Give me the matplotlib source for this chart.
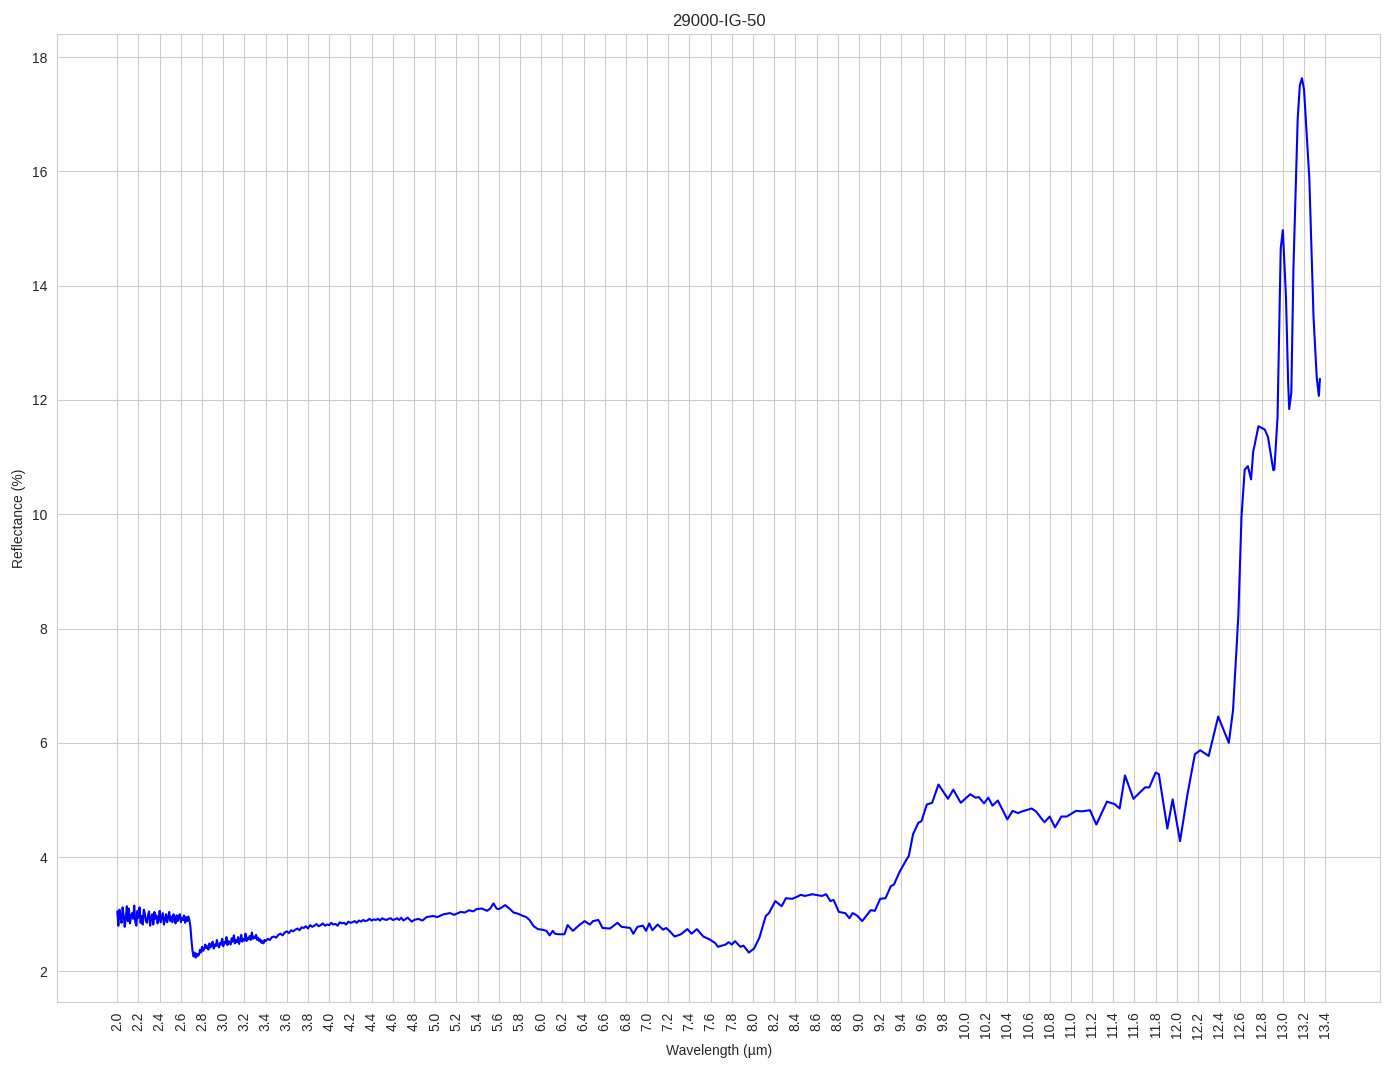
import matplotlib.pyplot as plt
import numpy as np
import seaborn as sns

# spectrum, in segments
# 2.00 - 2.68 um, noisy plateau (0.01 um steps)
wl_a = [2.00, 2.01, 2.02, 2.03, 2.04, 2.05, 2.06, 2.07, 2.08, 2.09,
        2.10, 2.11, 2.12, 2.13, 2.14, 2.15, 2.16, 2.17, 2.18, 2.19,
        2.20, 2.21, 2.22, 2.23, 2.24, 2.25, 2.26, 2.27, 2.28, 2.29,
        2.30, 2.31, 2.32, 2.33, 2.34, 2.35, 2.36, 2.37, 2.38, 2.39,
        2.40, 2.41, 2.42, 2.43, 2.44, 2.45, 2.46, 2.47, 2.48, 2.49,
        2.50, 2.51, 2.52, 2.53, 2.54, 2.55, 2.56, 2.57, 2.58, 2.59,
        2.60, 2.61, 2.62, 2.63, 2.64, 2.65, 2.66, 2.67, 2.68]
refl_a = [3.05, 2.80, 3.08, 2.95, 2.85, 3.12, 2.98, 2.78, 2.92, 3.14,
          2.88, 3.10, 2.84, 2.96, 3.02, 2.92, 3.15, 2.86, 2.80, 3.06,
          2.94, 3.12, 2.85, 2.97, 2.82, 3.08, 3.01, 2.88, 2.85, 2.98,
          3.05, 2.80, 2.94, 3.00, 2.82, 3.04, 2.92, 2.98, 2.84, 2.91,
          3.06, 2.86, 2.96, 3.02, 2.82, 2.90, 3.00, 2.86, 2.94, 3.04,
          2.88, 2.96, 2.86, 3.00, 2.93, 2.84, 2.98, 2.88, 2.96, 3.00,
          2.86, 2.94, 2.90, 2.98, 2.85, 2.95, 2.88, 2.96, 2.90]

# 2.69 - 3.40 um, drop and noisy recovery
wl_b = [2.69, 2.70, 2.71, 2.72, 2.73, 2.74, 2.75, 2.76, 2.77, 2.78,
        2.79, 2.80, 2.81, 2.82, 2.83, 2.84, 2.85, 2.86, 2.87, 2.88,
        2.89, 2.90, 2.91, 2.92, 2.93, 2.94, 2.95, 2.96, 2.97, 2.98,
        2.99, 3.00, 3.01, 3.02, 3.03, 3.04, 3.05, 3.06, 3.07, 3.08,
        3.09, 3.10, 3.11, 3.12, 3.13, 3.14, 3.15, 3.16, 3.17, 3.18,
        3.19, 3.20, 3.21, 3.22, 3.23, 3.24, 3.25, 3.26, 3.27, 3.28,
        3.29, 3.30, 3.31, 3.32, 3.33, 3.34, 3.35, 3.36, 3.37, 3.38,
        3.39, 3.40]
refl_b = [2.78, 2.55, 2.36, 2.26, 2.33, 2.24, 2.31, 2.27, 2.29, 2.38,
          2.33, 2.43, 2.36, 2.39, 2.47, 2.41, 2.44, 2.38, 2.49, 2.42,
          2.45, 2.52, 2.40, 2.47, 2.44, 2.55, 2.46, 2.42, 2.50, 2.47,
          2.57, 2.44, 2.51, 2.49, 2.60, 2.46, 2.53, 2.50, 2.47, 2.58,
          2.52, 2.63, 2.49, 2.55, 2.51, 2.60, 2.48, 2.56, 2.64, 2.52,
          2.57, 2.54, 2.66, 2.53, 2.59, 2.56, 2.62, 2.55, 2.68, 2.57,
          2.61, 2.58, 2.64, 2.55, 2.59, 2.53, 2.56, 2.50, 2.53, 2.49,
          2.55, 2.53]

# 3.42 - 4.70 um, slow rise with small noise
wl_c = [3.42, 3.44, 3.46, 3.48, 3.50, 3.52, 3.54, 3.56, 3.58, 3.60,
        3.62, 3.64, 3.66, 3.68, 3.70, 3.72, 3.74, 3.76, 3.78, 3.80,
        3.82, 3.84, 3.86, 3.88, 3.90, 3.92, 3.94, 3.96, 3.98, 4.00,
        4.02, 4.04, 4.06, 4.08, 4.10, 4.12, 4.14, 4.16, 4.18, 4.20,
        4.22, 4.24, 4.26, 4.28, 4.30, 4.32, 4.34, 4.36, 4.38, 4.40,
        4.42, 4.44, 4.46, 4.48, 4.50, 4.52, 4.54, 4.56, 4.58, 4.60,
        4.62, 4.64, 4.66, 4.68, 4.70]
refl_c = [2.57, 2.55, 2.60, 2.61, 2.59, 2.64, 2.66, 2.63, 2.68, 2.70,
          2.67, 2.72, 2.70, 2.73, 2.75, 2.72, 2.77, 2.76, 2.79, 2.75,
          2.81, 2.78, 2.80, 2.83, 2.79, 2.81, 2.84, 2.80, 2.82, 2.81,
          2.85, 2.82, 2.83, 2.80, 2.86, 2.84, 2.85, 2.82, 2.87, 2.85,
          2.86, 2.88, 2.85, 2.89, 2.87, 2.90, 2.88, 2.89, 2.92, 2.89,
          2.91, 2.90, 2.92, 2.89, 2.93, 2.91, 2.90, 2.92, 2.93, 2.90,
          2.91, 2.93, 2.90, 2.94, 2.89]

# 4.74 - 13.35 um, smoother part of the spectrum
wl_d = [4.74, 4.78, 4.80, 4.84, 4.88, 4.92, 4.98, 5.02, 5.08, 5.14,
        5.18, 5.24, 5.28, 5.32, 5.36, 5.39, 5.44, 5.49, 5.52, 5.55,
        5.58, 5.60, 5.63, 5.66, 5.70, 5.74, 5.78, 5.83, 5.86, 5.89,
        5.93, 5.97, 6.01, 6.05, 6.08, 6.11, 6.13, 6.16, 6.22, 6.25,
        6.30, 6.36, 6.41, 6.46, 6.49, 6.54, 6.58, 6.65, 6.72, 6.76,
        6.84, 6.87, 6.91, 6.96, 6.99, 7.02, 7.05, 7.10, 7.15, 7.18,
        7.21, 7.26, 7.32, 7.38, 7.42, 7.47, 7.53, 7.59, 7.64, 7.67,
        7.74, 7.77, 7.80, 7.83, 7.88, 7.91, 7.96, 8.01, 8.06, 8.12,
        8.15, 8.21, 8.27, 8.31, 8.37, 8.42, 8.45, 8.49, 8.56, 8.65,
        8.69, 8.73, 8.76, 8.81, 8.87, 8.91, 8.94, 8.98, 9.03, 9.11,
        9.15, 9.20, 9.25, 9.30, 9.33, 9.38, 9.44, 9.47, 9.51, 9.56,
        9.59, 9.64, 9.69, 9.75, 9.84, 9.89, 9.96, 10.05, 10.10, 10.13,
        10.18, 10.22, 10.26, 10.31, 10.40, 10.45, 10.50, 10.54, 10.63, 10.67,
        10.75, 10.80, 10.85, 10.91, 10.96, 11.05, 11.10, 11.18, 11.24, 11.34,
        11.41, 11.46, 11.51, 11.59, 11.70, 11.74, 11.80, 11.83, 11.91, 11.96,
        12.03, 12.10, 12.17, 12.22, 12.30, 12.39, 12.49, 12.53, 12.58, 12.61,
        12.64, 12.67, 12.70, 12.72, 12.77, 12.83, 12.86, 12.91, 12.92, 12.95,
        12.98, 13.00, 13.03, 13.05, 13.06, 13.08, 13.10, 13.14, 13.16, 13.18,
        13.20, 13.25, 13.29, 13.32, 13.34, 13.35]
refl_d = [2.94, 2.87, 2.90, 2.92, 2.89, 2.95, 2.97, 2.95, 3.00, 3.02,
          2.99, 3.04, 3.03, 3.07, 3.05, 3.09, 3.10, 3.06, 3.10, 3.19,
          3.10, 3.09, 3.12, 3.16, 3.10, 3.03, 3.01, 2.97, 2.95, 2.90,
          2.79, 2.74, 2.73, 2.71, 2.63, 2.71, 2.66, 2.65, 2.65, 2.81,
          2.71, 2.81, 2.88, 2.82, 2.88, 2.90, 2.76, 2.75, 2.85, 2.78,
          2.76, 2.66, 2.78, 2.80, 2.71, 2.84, 2.72, 2.82, 2.73, 2.76,
          2.71, 2.61, 2.65, 2.74, 2.66, 2.74, 2.61, 2.56, 2.50, 2.43,
          2.47, 2.51, 2.47, 2.53, 2.43, 2.45, 2.33, 2.40, 2.59, 2.97,
          3.02, 3.23, 3.14, 3.28, 3.27, 3.31, 3.34, 3.32, 3.35, 3.32,
          3.35, 3.23, 3.25, 3.04, 3.02, 2.93, 3.02, 2.98, 2.88, 3.07,
          3.06, 3.27, 3.28, 3.49, 3.52, 3.73, 3.93, 4.02, 4.40, 4.60,
          4.63, 4.92, 4.95, 5.27, 5.02, 5.18, 4.95, 5.10, 5.04, 5.05,
          4.94, 5.04, 4.90, 4.99, 4.66, 4.81, 4.77, 4.80, 4.85, 4.80,
          4.61, 4.71, 4.52, 4.71, 4.71, 4.81, 4.80, 4.82, 4.57, 4.97,
          4.93, 4.85, 5.43, 5.02, 5.22, 5.22, 5.48, 5.45, 4.50, 5.01,
          4.28, 5.10, 5.80, 5.87, 5.77, 6.46, 6.00, 6.57, 8.22, 9.96,
          10.78, 10.84, 10.61, 11.09, 11.54, 11.48, 11.35, 10.77, 10.78, 11.70,
          14.65, 14.97, 13.78, 12.30, 11.84, 12.13, 14.30, 16.91, 17.50, 17.63,
          17.43, 15.87, 13.43, 12.39, 12.07, 12.37]

wavelength = np.array(wl_a + wl_b + wl_c + wl_d)
reflectance = np.array(refl_a + refl_b + refl_c + refl_d)

x_ticks = np.round(np.arange(2.0, 13.41, 0.2), 1)

sns.set_style("whitegrid")
plt.rcParams['font.family'] = ['Liberation Sans', 'DejaVu Sans']

fig, ax = plt.subplots(figsize=(13.94, 10.69), dpi=100)
ax.plot(wavelength, reflectance, color='blue', linewidth=1.5)

ax.set_xticks(x_ticks)
ax.set_xticklabels([f"{t:.1f}" for t in x_ticks], rotation=90)
ax.set_yticks(np.arange(2, 19, 2))

ax.set_title("29000-IG-50", fontsize=12)
ax.set_xlabel("Wavelength (µm)", fontsize=10)
ax.set_ylabel("Reflectance (%)", fontsize=10)
ax.tick_params(labelsize=10)

plt.subplots_adjust(left=0.041, right=0.99, top=0.968, bottom=0.063)
plt.savefig("out.png")
